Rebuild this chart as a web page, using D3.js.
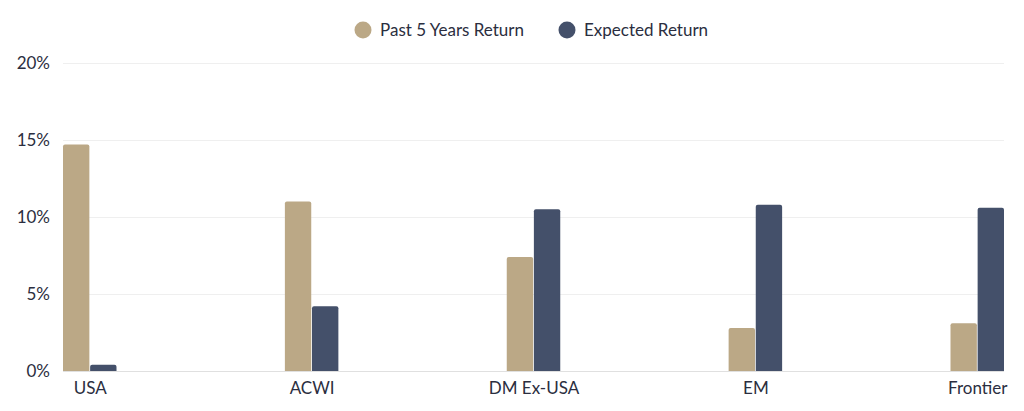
<!DOCTYPE html>
<html>
<head>
<meta charset="utf-8">
<script src="https://cdn.jsdelivr.net/npm/d3@7"></script>
<style>
  body { margin: 0; background: #fff; }
  text { font-family: Lato, "Open Sans", sans-serif; fill: #2b2e40; }
</style>
</head>
<body>
<svg id="chart" width="1024" height="411"></svg>
<script>
// data
var categories = ["USA", "ACWI", "DM Ex-USA", "EM", "Frontier"];
var seriesNames = ["Past 5 Years Return", "Expected Return"];
var pastReturn = [14.7, 11.0, 7.4, 2.8, 3.1];
var expectedReturn = [0.4, 4.2, 10.5, 10.8, 10.6];
var yTicks = [0, 5, 10, 15, 20];
var colors = ["#bba886", "#44506a"];

var svg = d3.select("#chart");
var margin = {top: 63, right: 20, bottom: 40, left: 63};
var width = 1024, height = 411;
var plotRight = 1004, plotBottom = 371;

var barW = 26, gap = 1.5;
var groupW = barW * 2 + gap;

var yScale = d3.scaleLinear().domain([0, 20]).range([plotBottom, margin.top]);
var x0 = d3.scalePoint().domain(categories)
	.range([margin.left + groupW / 2, plotRight - groupW / 2]);
var x1 = d3.scaleBand().domain(seriesNames).range([-groupW / 2, groupW / 2]).paddingInner(gap / groupW);

//gridlines
svg.append("g").selectAll("line")
	.data(yTicks)
	.enter().append("line")
	.attr("x1", margin.left).attr("x2", plotRight)
	.attr("y1", function(d) { return yScale(d) + 0.5; })
	.attr("y2", function(d) { return yScale(d) + 0.5; })
	.attr("stroke", function(d) { return d === 0 ? "#e0e0e0" : "#efefef"; })
	.attr("stroke-width", 1);

//y axis labels
var yAxis = d3.axisLeft(yScale).tickValues(yTicks)
	.tickFormat(function(d) { return d + "%"; })
	.tickSize(0).tickPadding(13);
var yG = svg.append("g").attr("transform", "translate(" + margin.left + ",0)").call(yAxis);
yG.select(".domain").remove();
yG.selectAll("text").style("font-size", "17px").attr("fill", "#2b2e40").attr("font-family", "Lato, sans-serif");

//x axis labels
var xAxis = d3.axisBottom(x0).tickSize(0).tickPadding(11);
var xG = svg.append("g").attr("transform", "translate(0," + plotBottom + ")").call(xAxis);
xG.select(".domain").remove();
xG.selectAll("text").style("font-size", "17px").attr("fill", "#2b2e40").attr("font-family", "Lato, sans-serif");

//bars
var rows = categories.map(function(c, i) {
	return {cat: c, values: [pastReturn[i], expectedReturn[i]]};
});

function barPath(x, y, w, h, r) {
	r = Math.min(r, h);
	return "M" + x + "," + (y + h) +
		"V" + (y + r) + "Q" + x + "," + y + " " + (x + r) + "," + y +
		"H" + (x + w - r) + "Q" + (x + w) + "," + y + " " + (x + w) + "," + (y + r) +
		"V" + (y + h) + "Z";
}

var groups = svg.append("g").selectAll("g")
	.data(rows)
	.enter().append("g")
	.attr("transform", function(d) { return "translate(" + x0(d.cat) + ",0)"; });

groups.selectAll("path")
	.data(function(d) { return d.values.map(function(v, j) { return {v: v, s: seriesNames[j], j: j}; }); })
	.enter().append("path")
	.attr("d", function(d) {
		var y = yScale(d.v);
		return barPath(x1(d.s), y, x1.bandwidth(), plotBottom - y, 2);
	})
	.attr("fill", function(d) { return colors[d.j]; });

//legend
var legendX = [363, 567];
var legend = svg.append("g").selectAll("g")
	.data(seriesNames)
	.enter().append("g")
	.attr("transform", function(d, i) { return "translate(" + legendX[i] + ",30)"; });

legend.append("circle").attr("r", 8.5).attr("fill", function(d, i) { return colors[i]; });
legend.append("text")
	.attr("x", 17).attr("dy", "0.35em")
	.style("font-size", "17px")
	.text(function(d) { return d; });
</script>
</body>
</html>
